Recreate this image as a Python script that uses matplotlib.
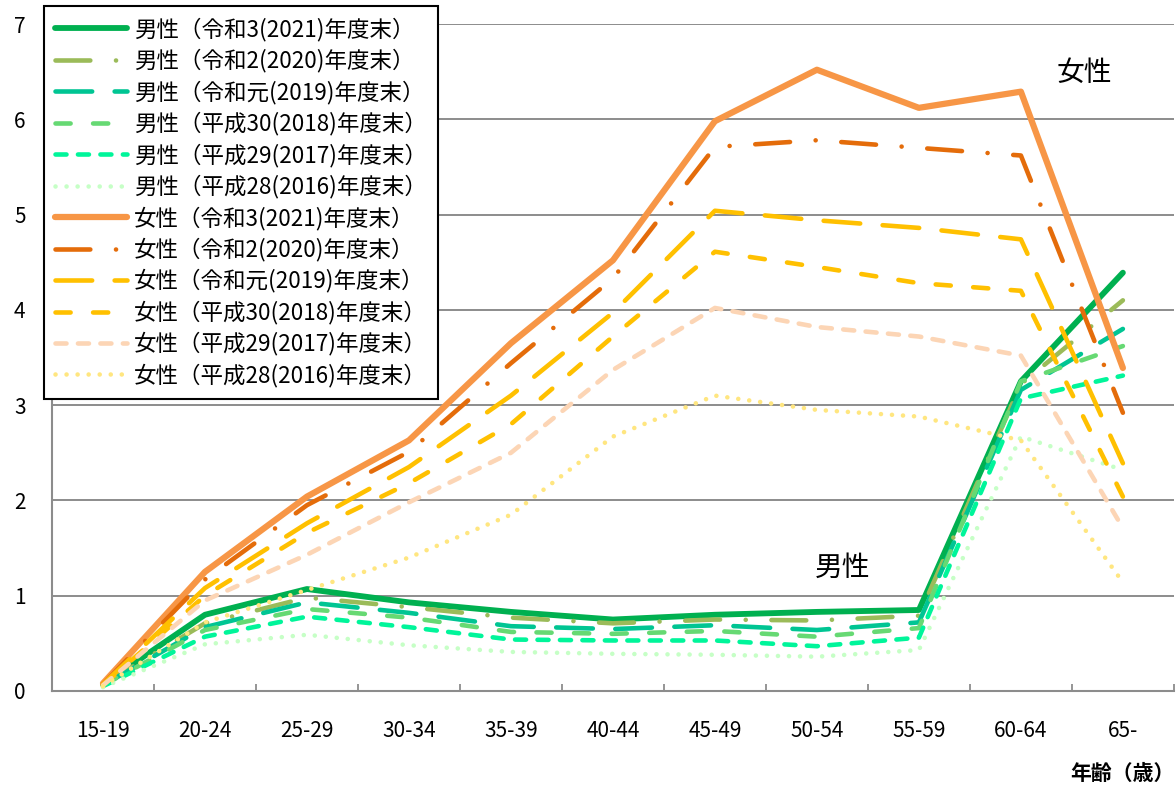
import matplotlib
matplotlib.use("Agg")
import matplotlib.pyplot as plt
from matplotlib.ticker import FixedLocator

plt.rcParams["font.family"] = ["Noto Sans CJK JP", "DejaVu Sans"]

ages = ["15-19", "20-24", "25-29", "30-34", "35-39", "40-44",
        "45-49", "50-54", "55-59", "60-64", "65-"]

male_2021 = [0.07, 0.80, 1.07, 0.93, 0.83, 0.75, 0.80, 0.83, 0.85, 3.25, 4.39]
male_2020 = [0.07, 0.71, 0.98, 0.88, 0.77, 0.71, 0.75, 0.74, 0.79, 3.22, 4.10]
male_2019 = [0.06, 0.67, 0.93, 0.82, 0.68, 0.65, 0.69, 0.64, 0.72, 3.16, 3.80]
male_2018 = [0.06, 0.64, 0.86, 0.77, 0.62, 0.60, 0.63, 0.57, 0.66, 3.25, 3.62]
male_2017 = [0.05, 0.57, 0.78, 0.67, 0.54, 0.53, 0.53, 0.47, 0.56, 3.07, 3.31]
male_2016 = [0.04, 0.49, 0.59, 0.48, 0.41, 0.39, 0.38, 0.36, 0.43, 2.67, 2.32]

female_2021 = [0.08, 1.25, 2.04, 2.63, 3.65, 4.52, 5.98, 6.52, 6.12, 6.29, 3.39]
female_2020 = [0.07, 1.17, 1.95, 2.51, 3.44, 4.33, 5.71, 5.78, 5.70, 5.62, 2.92]
female_2019 = [0.07, 1.08, 1.76, 2.35, 3.10, 3.97, 5.04, 4.94, 4.86, 4.74, 2.39]
female_2018 = [0.06, 1.00, 1.66, 2.18, 2.80, 3.72, 4.61, 4.45, 4.28, 4.20, 2.04]
female_2017 = [0.06, 0.95, 1.43, 1.98, 2.50, 3.37, 4.02, 3.82, 3.72, 3.52, 1.71]
female_2016 = [0.05, 0.72, 1.06, 1.40, 1.85, 2.67, 3.10, 2.95, 2.88, 2.63, 1.14]

years = ["令和3(2021)", "令和2(2020)", "令和元(2019)",
         "平成30(2018)", "平成29(2017)", "平成28(2016)"]
male_series = [male_2021, male_2020, male_2019, male_2018, male_2017, male_2016]
female_series = [female_2021, female_2020, female_2019, female_2018, female_2017, female_2016]
male_colors = ["#00B050", "#9BBB59", "#00C593", "#66D973", "#00F59A", "#C6FFC6"]
female_colors = ["#F79646", "#E46C0A", "#FFC000", "#FFC000", "#FCD5B5", "#FFE680"]

# dash patterns per year (None = solid), in units of line width
dashes = [None, (7.6, 5.6, 0.01, 5.6), (8.0, 4.9), (3.3, 4.9), (2.4, 2.5), (0.01, 2.4)]


def draw(ax, series, colors, sex, solid_lw):
    for vals, color, dash, yr in zip(series, colors, dashes, years):
        label = f"{sex}（{yr}年度末）"
        if dash is None:
            ax.plot(ages, vals, color=color, lw=solid_lw, label=label,
                    solid_capstyle="round", solid_joinstyle="round")
        else:
            ax.plot(ages, vals, color=color, lw=3.3, label=label, dashes=dash,
                    dash_capstyle="round", dash_joinstyle="round")


fig = plt.figure(figsize=(11.76, 7.87), dpi=100)
ax = fig.add_axes([0.0442, 0.122, 0.954, 0.8475])

draw(ax, male_series, male_colors, "男性", 4.2)
draw(ax, female_series, female_colors, "女性", 4.5)

ax.set_xlim(-0.5, len(ages) - 0.5)
ax.set_ylim(0, 7)
ax.set_yticks(range(0, 8))
ax.yaxis.grid(True, color="#8C8C8C", lw=1.4)
ax.set_axisbelow(True)
ax.tick_params(axis="y", length=0, pad=19, labelsize=15)
ax.tick_params(axis="x", which="major", length=0, pad=21, labelsize=15)
ax.xaxis.set_minor_locator(FixedLocator([i - 0.5 for i in range(len(ages) + 1)]))
ax.tick_params(axis="x", which="minor", direction="in", length=5, width=1.3, color="#8C8C8C")
for side in ["top", "right"]:
    ax.spines[side].set_visible(False)
for side in ["left", "bottom"]:
    ax.spines[side].set_color("#8C8C8C")
    ax.spines[side].set_linewidth(1.5)

ax.text(9.62, 6.49, "女性", fontsize=20, ha="center", va="center")
ax.text(7.25, 1.29, "男性", fontsize=20, ha="center", va="center")
fig.text(1122 / 1176, 1 - 773 / 787, "年齢（歳）", fontsize=15, fontweight="bold",
         ha="center", va="center")

leg = fig.legend(loc="upper left", bbox_to_anchor=(44 / 1176, 1 - 6 / 787),
                 bbox_transform=fig.transFigure, fontsize=16.2, frameon=True,
                 fancybox=False, edgecolor="black", framealpha=1,
                 handlelength=3.2, handletextpad=0.3, labelspacing=0.34,
                 borderpad=0.5, borderaxespad=0)
leg.get_frame().set_linewidth(1.5)

fig.savefig("out.png", dpi=100)
